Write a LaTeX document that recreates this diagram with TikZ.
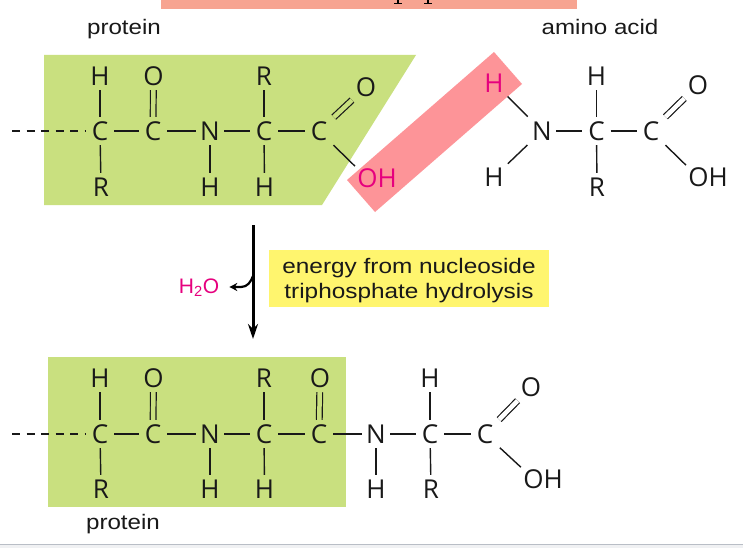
\documentclass[tikz,border=0pt]{standalone}
\usepackage{fontspec}
\setmainfont{Open Sans}
\newfontfamily\labelfont{Liberation Sans}
\usepackage{tikz}
\usetikzlibrary{arrows.meta}
\definecolor{leafgreen}{HTML}{C9E07F}
\definecolor{bondpink}{HTML}{FD9498}
\definecolor{waterpink}{HTML}{E6007E}
\definecolor{headsalmon}{HTML}{F7A491}
\definecolor{noteyellow}{HTML}{FFF56E}
\definecolor{footgrey}{HTML}{F0F1F3}
\definecolor{footline}{HTML}{B9BEC6}
\begin{document}
\begin{tikzpicture}[x=1pt,y=-1pt]

\tikzset{atom/.style={circle,minimum size=28pt,inner sep=0pt,font=\fontsize{26}{26}\selectfont,text=black!90},
         group/.style={inner sep=0pt,font=\fontsize{26}{26}\selectfont,text=black!90},
         hotgroup/.style={group,text=waterpink},
         caption/.style={inner sep=0pt,xscale=1.15,font=\labelfont\fontsize{21}{21}\selectfont,text=black!90},
         bond/.style={line width=1.4pt,black!90},
         tail/.style={bond,dash pattern=on 8pt off 6.5pt},
         diag/.style={bond,shorten <=6pt,shorten >=5pt},
         dbl/.style={bond,double=#1,double distance=4.5pt,line width=1.2pt},
         dbldiag/.style={dbl=#1,shorten <=6pt,shorten >=5pt}}

\useasboundingbox (0,0) rectangle (743,548);
\fill[white] (0,0) rectangle (743,548);

\fill[headsalmon] (161,0) rectangle (577,9);
\draw[line width=2.4pt] (398,0) -- (398,3);
\draw[line width=1.4pt] (394,3.4) -- (402,3.4);
\draw[line width=2.4pt] (428,0) -- (428,3);
\draw[line width=1.4pt] (424,3.4) -- (432,3.4);
\fill[footgrey] (0,544) rectangle (743,548);
\draw[footline,line width=0.8pt] (0,544) -- (743,544);

\fill[leafgreen] (44,55) -- (416,55) -- (322,205) -- (44,205) -- cycle;
\fill[bondpink] (494,52) -- (522,84) -- (375,212) -- (347,180) -- cycle;
\fill[leafgreen] (48,357) rectangle (346,507);

\node[caption] (proteintop) at (124,29) {protein};
\node[caption] (aminotop) at (600,27) {amino acid};

\coordinate (tailtop) at (12,131);
\node[atom] (c1) at (100,131) {C};
\node[atom] (c2) at (153,131) {C};
\node[atom] (n1) at (210,131) {N};
\node[atom] (c3) at (264,131) {C};
\node[atom] (c4) at (319,131) {C};
\node[atom] (h1) at (100,76) {H};
\node[atom] (o1) at (153.5,76) {O};
\node[atom] (r1) at (264,76) {R};
\node[atom] (o2) at (366,87) {O};
\node[atom] (r2) at (101,187) {R};
\node[atom] (h2) at (210,187) {H};
\node[atom] (h3) at (264.5,187) {H};
\node[hotgroup] (oh1) at (377,178) {OH};

\node[atom] (n2) at (542,131) {N};
\node[atom] (c5) at (596.5,131) {C};
\node[atom] (c6) at (651,131) {C};
\node[atom,text=waterpink] (h4) at (494,83) {H};
\node[atom] (h5) at (494,177) {H};
\node[atom] (h6) at (596.5,76) {H};
\node[atom] (r3) at (597,187) {R};
\node[atom] (o3) at (698,85) {O};
\node[group] (oh2) at (708,177) {OH};

\draw[tail] (tailtop) -- (c1);
\draw[bond] (c1) -- (c2);
\draw[bond] (c2) -- (n1);
\draw[bond] (n1) -- (c3);
\draw[bond] (c3) -- (c4);
\draw[bond] (c1) -- (h1);
\draw[dbl=leafgreen] (c2) -- (o1);
\draw[bond] (c3) -- (r1);
\draw[dbldiag=leafgreen] (c4) -- (o2);
\draw[bond] (c1) -- (r2);
\draw[bond] (n1) -- (h2);
\draw[bond] (c3) -- (h3);
\draw[diag,shorten >=3pt] (c4) -- (oh1.north west);

\draw[bond] (n2) -- (c5);
\draw[bond] (c5) -- (c6);
\draw[diag] (n2) -- (h4);
\draw[diag] (n2) -- (h5);
\draw[bond] (c5) -- (h6);
\draw[bond] (c5) -- (r3);
\draw[dbldiag=white] (c6) -- (o3);
\draw[diag,shorten >=3pt] (c6) -- (oh2.north west);

\coordinate (stemtop) at (253,225);
\coordinate (stemend) at (253,339);
\coordinate (stemjoin) at (253,276);
\coordinate (waterbend) at (241,287);
\node[inner sep=0pt,text=waterpink,font=\labelfont\fontsize{21}{21}\selectfont] (water) at (199,288) {H\textsubscript{2}O};
\node[fill=noteyellow,xscale=1.16,minimum width=241.4pt,minimum height=57pt,inner sep=0pt,align=center,font=\labelfont\fontsize{21}{25}\selectfont,text=black!90] (note) at (409,278.5) {\rule{0pt}{19pt}energy from nucleoside\\triphosphate hydrolysis};
\draw[line width=3pt,-{Stealth[length=15pt,width=10pt]}] (stemtop) -- (stemend);
\draw[line width=2.2pt,-{Stealth[length=8pt,width=8pt]},shorten >=10pt] (stemjoin) to[out=-110,in=0] (waterbend) -- (water.east |- waterbend);

\coordinate (tailbot) at (12,434);
\node[atom] (c7) at (100,434) {C};
\node[atom] (c8) at (153,434) {C};
\node[atom] (n3) at (210,434) {N};
\node[atom] (c9) at (264,434) {C};
\node[atom] (c10) at (319,434) {C};
\node[atom] (n4) at (376,434) {N};
\node[atom] (c11) at (430,434) {C};
\node[atom] (c12) at (485,434) {C};
\node[atom] (h7) at (100,378) {H};
\node[atom] (o4) at (153.5,378) {O};
\node[atom] (r4) at (264,378) {R};
\node[atom] (o5) at (320,378) {O};
\node[atom] (h8) at (430,378) {H};
\node[atom] (o6) at (531,387) {O};
\node[atom] (r5) at (101,489) {R};
\node[atom] (h9) at (210,489) {H};
\node[atom] (h10) at (264.5,489) {H};
\node[atom] (h11) at (376,489) {H};
\node[atom] (r6) at (431,489) {R};
\node[group] (oh3) at (543,479) {OH};
\node[caption] (proteinbot) at (123,524) {protein};

\draw[tail] (tailbot) -- (c7);
\draw[bond] (c7) -- (c8);
\draw[bond] (c8) -- (n3);
\draw[bond] (n3) -- (c9);
\draw[bond] (c9) -- (c10);
\draw[bond] (c10) -- (n4);
\draw[bond] (n4) -- (c11);
\draw[bond] (c11) -- (c12);
\draw[bond] (c7) -- (h7);
\draw[dbl=leafgreen] (c8) -- (o4);
\draw[bond] (c9) -- (r4);
\draw[dbl=leafgreen] (c10) -- (o5);
\draw[bond] (c11) -- (h8);
\draw[dbldiag=white] (c12) -- (o6);
\draw[bond] (c7) -- (r5);
\draw[bond] (n3) -- (h9);
\draw[bond] (c9) -- (h10);
\draw[bond] (n4) -- (h11);
\draw[bond] (c11) -- (r6);
\draw[diag,shorten >=3pt] (c12) -- (oh3.north west);

\end{tikzpicture}
\end{document}
